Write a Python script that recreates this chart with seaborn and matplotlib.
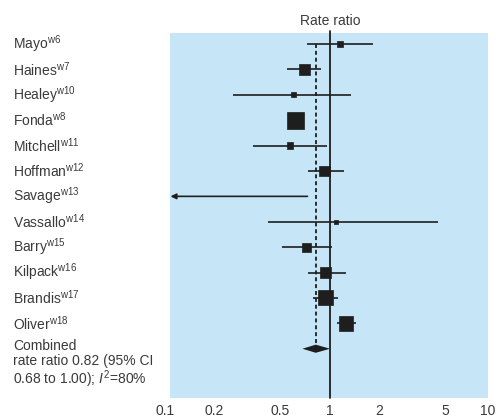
import numpy as np
import pandas as pd
import seaborn as sns
import matplotlib.pyplot as plt
import matplotlib.transforms as mtransforms

# study data (rate ratio, 95% CI, relative weight)
studies = ["Mayo", "Haines", "Healey", "Fonda", "Mitchell", "Hoffman", "Savage",
           "Vassallo", "Barry", "Kilpack", "Brandis", "Oliver"]
refs = ["w6", "w7", "w10", "w8", "w11", "w12", "w13", "w14", "w15", "w16", "w17", "w18"]
rate_ratio = [1.15, 0.70, 0.60, 0.62, 0.57, 0.93, np.nan, 1.09, 0.72, 0.94, 0.94, 1.25]
ci_low = [0.73, 0.55, 0.26, 0.58, 0.34, 0.74, 0.05, 0.42, 0.51, 0.74, 0.79, 1.10]
ci_high = [1.82, 0.88, 1.34, 0.67, 0.96, 1.22, 0.73, 4.5, 1.03, 1.25, 1.12, 1.44]
weight = [3, 9, 2, 22, 3, 9, 0, 1.5, 6, 8, 17, 17]

combined_rr = 0.82
combined_lo = 0.68
combined_hi = 1.00

xticks = [0.1, 0.2, 0.5, 1, 2, 5, 10]
xticklabels = ["0.1", "0.2", "0.5", "1", "2", "5", "10"]

BG = "#c6e6f8"
INK = "#1e1e1e"
TXT = "#3a3a3a"

sns.set_theme(style="white")
plt.rcParams["font.family"] = ["Liberation Sans", "DejaVu Sans"]
plt.rcParams["mathtext.fontset"] = "custom"
plt.rcParams["mathtext.rm"] = "Liberation Sans"
plt.rcParams["mathtext.it"] = "Liberation Sans:italic"

df = pd.DataFrame({"study": studies, "rr": rate_ratio, "lo": ci_low,
                   "hi": ci_high, "weight": weight})
df["row"] = np.arange(len(df))

fig = plt.figure(figsize=(4.97, 4.19), dpi=100)
ax = fig.add_axes([165 / 497, 21 / 419, 330 / 497, 365 / 419])
ax.set_facecolor("none")
ax.set_xscale("log")
ax.set_xlim(0.1, 10)
ax.set_ylim(13.94, -0.433)

# light blue panel
ax.axvspan(0.107, 9.1, color=BG, lw=0, zorder=0)

# reference lines
ax.axvline(1, ymin=0, ymax=1.005, color=INK, lw=1.3, zorder=2, clip_on=False)
ax.vlines(combined_rr, 0, 12, colors=INK, lw=1.3, linestyles=(0, (2.2, 1.6)), zorder=2)

# confidence intervals
ok = df["rr"].notna()
ax.hlines(df.loc[ok, "row"], df.loc[ok, "lo"], df.loc[ok, "hi"], colors=INK, lw=1.2, zorder=3)

# study with CI off the left edge -> arrow
for _, r in df[~ok].iterrows():
    ax.annotate("", xy=(0.108, r["row"]), xytext=(r["hi"], r["row"]),
                arrowprops=dict(arrowstyle="-|>", color=INK, lw=1.2, mutation_scale=8,
                                shrinkA=0, shrinkB=0), zorder=3)

# squares sized by weight
k = 6.8
wpos = [w for w in weight if w > 0]
sns.scatterplot(data=df[ok], x="rr", y="row", size="weight",
                sizes=(k * min(wpos), k * max(wpos)),
                size_norm=(min(wpos), max(wpos)),
                marker="s", color=INK, edgecolor=INK, linewidth=0.5,
                legend=False, ax=ax, zorder=4)

# combined diamond
h = 0.16
ax.fill([combined_lo, combined_rr, combined_hi, combined_rr],
        [12, 12 - h, 12, 12 + h], color=INK, lw=0, zorder=4)

# axes styling
for s in ax.spines.values():
    s.set_visible(False)
ax.set_xticks(xticks)
ax.set_xticklabels(xticklabels)
ax.xaxis.set_minor_locator(plt.NullLocator())
ax.tick_params(axis="x", direction="in", length=6, width=1, color="#e2f2fc",
               labelsize=10, labelcolor=TXT, pad=4)
# keep the last label inside the figure
ax.get_xticklabels()[-1].set_ha("right")
ax.set_yticks([])
ax.set_xlabel("")
ax.set_ylabel("")
ax.set_title("Rate ratio", fontsize=10, color=TXT, pad=6)

# study labels on the left
tr = mtransforms.blended_transform_factory(fig.transFigure, ax.transData)
for i, (name, ref) in enumerate(zip(studies, refs)):
    ax.text(13 / 497, i, name + r"$^{\mathrm{" + ref + "}}$", transform=tr,
            ha="left", va="center", fontsize=10, color=TXT)
ax.text(13 / 497, 11.62,
        "Combined\nrate ratio %.2f (95%% CI\n%.2f to %.2f); $I^2$=80%%"
        % (combined_rr, combined_lo, combined_hi),
        transform=tr, ha="left", va="top", fontsize=10, color=TXT, linespacing=1.05)

fig.savefig("out.png", dpi=100)
